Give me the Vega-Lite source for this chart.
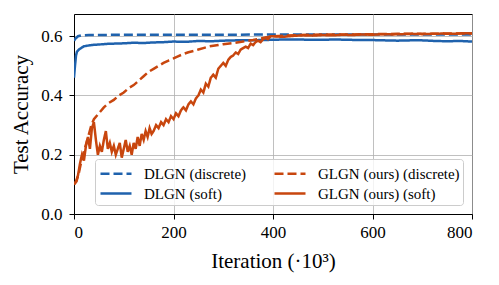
{
  "$schema": "https://vega.github.io/schema/vega-lite/v6.json",
  "width": 398,
  "height": 200,
  "autosize": "none",
  "padding": {"left": 74, "top": 14, "right": 27, "bottom": 71},
  "config": {
    "font": "Liberation Serif",
    "view": {"stroke": "black", "strokeWidth": 1},
    "axis": {"labelFont": "Liberation Serif", "titleFont": "Liberation Serif", "labelFontSize": 17, "titleFontSize": 21, "titleFontWeight": "normal", "labelColor": "black", "titleColor": "black", "domainColor": "black", "tickColor": "black", "gridColor": "#b0b0b0", "gridWidth": 0.8, "tickSize": 5}
  },
  "data": {"values": [
    {"it":0,"acc":0.585,"s":"DLGN (discrete)"},{"it":3,"acc":0.592,"s":"DLGN (discrete)"},{"it":8,"acc":0.600,"s":"DLGN (discrete)"},{"it":15,"acc":0.603,"s":"DLGN (discrete)"},{"it":30,"acc":0.604,"s":"DLGN (discrete)"},{"it":100,"acc":0.605,"s":"DLGN (discrete)"},{"it":200,"acc":0.605,"s":"DLGN (discrete)"},{"it":300,"acc":0.605,"s":"DLGN (discrete)"},{"it":400,"acc":0.606,"s":"DLGN (discrete)"},{"it":500,"acc":0.606,"s":"DLGN (discrete)"},{"it":600,"acc":0.606,"s":"DLGN (discrete)"},{"it":700,"acc":0.606,"s":"DLGN (discrete)"},{"it":800,"acc":0.606,"s":"DLGN (discrete)"},
    {"it":0,"acc":0.46,"s":"DLGN (soft)"},{"it":2,"acc":0.50,"s":"DLGN (soft)"},{"it":4,"acc":0.535,"s":"DLGN (soft)"},{"it":6,"acc":0.548,"s":"DLGN (soft)"},{"it":10,"acc":0.555,"s":"DLGN (soft)"},{"it":15,"acc":0.561,"s":"DLGN (soft)"},{"it":20,"acc":0.566,"s":"DLGN (soft)"},{"it":30,"acc":0.569,"s":"DLGN (soft)"},{"it":40,"acc":0.571,"s":"DLGN (soft)"},{"it":50,"acc":0.572,"s":"DLGN (soft)"},{"it":65,"acc":0.574,"s":"DLGN (soft)"},{"it":80,"acc":0.575,"s":"DLGN (soft)"},{"it":100,"acc":0.576,"s":"DLGN (soft)"},{"it":120,"acc":0.578,"s":"DLGN (soft)"},{"it":140,"acc":0.577,"s":"DLGN (soft)"},{"it":160,"acc":0.579,"s":"DLGN (soft)"},{"it":180,"acc":0.580,"s":"DLGN (soft)"},{"it":200,"acc":0.582,"s":"DLGN (soft)"},{"it":225,"acc":0.581,"s":"DLGN (soft)"},{"it":250,"acc":0.584,"s":"DLGN (soft)"},{"it":275,"acc":0.583,"s":"DLGN (soft)"},{"it":300,"acc":0.585,"s":"DLGN (soft)"},{"it":325,"acc":0.586,"s":"DLGN (soft)"},{"it":350,"acc":0.586,"s":"DLGN (soft)"},{"it":375,"acc":0.587,"s":"DLGN (soft)"},{"it":400,"acc":0.588,"s":"DLGN (soft)"},{"it":425,"acc":0.589,"s":"DLGN (soft)"},{"it":450,"acc":0.589,"s":"DLGN (soft)"},{"it":475,"acc":0.588,"s":"DLGN (soft)"},{"it":500,"acc":0.588,"s":"DLGN (soft)"},{"it":525,"acc":0.589,"s":"DLGN (soft)"},{"it":550,"acc":0.588,"s":"DLGN (soft)"},{"it":575,"acc":0.587,"s":"DLGN (soft)"},{"it":600,"acc":0.587,"s":"DLGN (soft)"},{"it":625,"acc":0.586,"s":"DLGN (soft)"},{"it":650,"acc":0.585,"s":"DLGN (soft)"},{"it":675,"acc":0.586,"s":"DLGN (soft)"},{"it":700,"acc":0.586,"s":"DLGN (soft)"},{"it":725,"acc":0.584,"s":"DLGN (soft)"},{"it":750,"acc":0.583,"s":"DLGN (soft)"},{"it":775,"acc":0.584,"s":"DLGN (soft)"},{"it":800,"acc":0.582,"s":"DLGN (soft)"},
    {"it":0,"acc":0.10,"s":"GLGN (ours) (discrete)"},{"it":5,"acc":0.11,"s":"GLGN (ours) (discrete)"},{"it":10,"acc":0.14,"s":"GLGN (ours) (discrete)"},{"it":15,"acc":0.18,"s":"GLGN (ours) (discrete)"},{"it":20,"acc":0.21,"s":"GLGN (ours) (discrete)"},{"it":25,"acc":0.24,"s":"GLGN (ours) (discrete)"},{"it":30,"acc":0.27,"s":"GLGN (ours) (discrete)"},{"it":35,"acc":0.30,"s":"GLGN (ours) (discrete)"},{"it":40,"acc":0.32,"s":"GLGN (ours) (discrete)"},{"it":50,"acc":0.34,"s":"GLGN (ours) (discrete)"},{"it":60,"acc":0.36,"s":"GLGN (ours) (discrete)"},{"it":70,"acc":0.375,"s":"GLGN (ours) (discrete)"},{"it":80,"acc":0.385,"s":"GLGN (ours) (discrete)"},{"it":90,"acc":0.40,"s":"GLGN (ours) (discrete)"},{"it":100,"acc":0.41,"s":"GLGN (ours) (discrete)"},{"it":110,"acc":0.425,"s":"GLGN (ours) (discrete)"},{"it":120,"acc":0.435,"s":"GLGN (ours) (discrete)"},{"it":130,"acc":0.45,"s":"GLGN (ours) (discrete)"},{"it":140,"acc":0.465,"s":"GLGN (ours) (discrete)"},{"it":150,"acc":0.48,"s":"GLGN (ours) (discrete)"},{"it":160,"acc":0.49,"s":"GLGN (ours) (discrete)"},{"it":170,"acc":0.50,"s":"GLGN (ours) (discrete)"},{"it":180,"acc":0.51,"s":"GLGN (ours) (discrete)"},{"it":190,"acc":0.518,"s":"GLGN (ours) (discrete)"},{"it":200,"acc":0.525,"s":"GLGN (ours) (discrete)"},{"it":210,"acc":0.533,"s":"GLGN (ours) (discrete)"},{"it":220,"acc":0.54,"s":"GLGN (ours) (discrete)"},{"it":230,"acc":0.546,"s":"GLGN (ours) (discrete)"},{"it":240,"acc":0.55,"s":"GLGN (ours) (discrete)"},{"it":250,"acc":0.555,"s":"GLGN (ours) (discrete)"},{"it":260,"acc":0.56,"s":"GLGN (ours) (discrete)"},{"it":270,"acc":0.565,"s":"GLGN (ours) (discrete)"},{"it":280,"acc":0.568,"s":"GLGN (ours) (discrete)"},{"it":290,"acc":0.57,"s":"GLGN (ours) (discrete)"},{"it":300,"acc":0.573,"s":"GLGN (ours) (discrete)"},{"it":320,"acc":0.577,"s":"GLGN (ours) (discrete)"},{"it":340,"acc":0.582,"s":"GLGN (ours) (discrete)"},{"it":360,"acc":0.587,"s":"GLGN (ours) (discrete)"},{"it":380,"acc":0.594,"s":"GLGN (ours) (discrete)"},{"it":400,"acc":0.60,"s":"GLGN (ours) (discrete)"},{"it":450,"acc":0.604,"s":"GLGN (ours) (discrete)"},{"it":500,"acc":0.606,"s":"GLGN (ours) (discrete)"},{"it":550,"acc":0.606,"s":"GLGN (ours) (discrete)"},{"it":600,"acc":0.607,"s":"GLGN (ours) (discrete)"},{"it":650,"acc":0.608,"s":"GLGN (ours) (discrete)"},{"it":700,"acc":0.608,"s":"GLGN (ours) (discrete)"},{"it":750,"acc":0.609,"s":"GLGN (ours) (discrete)"},{"it":800,"acc":0.609,"s":"GLGN (ours) (discrete)"},
    {"it":0,"acc":0.10,"s":"GLGN (ours) (soft)"},{"it":4,"acc":0.11,"s":"GLGN (ours) (soft)"},{"it":8,"acc":0.13,"s":"GLGN (ours) (soft)"},{"it":12,"acc":0.17,"s":"GLGN (ours) (soft)"},{"it":16,"acc":0.20,"s":"GLGN (ours) (soft)"},{"it":20,"acc":0.18,"s":"GLGN (ours) (soft)"},{"it":24,"acc":0.23,"s":"GLGN (ours) (soft)"},{"it":28,"acc":0.26,"s":"GLGN (ours) (soft)"},{"it":32,"acc":0.22,"s":"GLGN (ours) (soft)"},{"it":36,"acc":0.29,"s":"GLGN (ours) (soft)"},{"it":40,"acc":0.31,"s":"GLGN (ours) (soft)"},{"it":44,"acc":0.25,"s":"GLGN (ours) (soft)"},{"it":48,"acc":0.20,"s":"GLGN (ours) (soft)"},{"it":52,"acc":0.23,"s":"GLGN (ours) (soft)"},{"it":56,"acc":0.21,"s":"GLGN (ours) (soft)"},{"it":60,"acc":0.25,"s":"GLGN (ours) (soft)"},{"it":64,"acc":0.28,"s":"GLGN (ours) (soft)"},{"it":68,"acc":0.22,"s":"GLGN (ours) (soft)"},{"it":72,"acc":0.24,"s":"GLGN (ours) (soft)"},{"it":76,"acc":0.21,"s":"GLGN (ours) (soft)"},{"it":80,"acc":0.23,"s":"GLGN (ours) (soft)"},{"it":84,"acc":0.20,"s":"GLGN (ours) (soft)"},{"it":88,"acc":0.22,"s":"GLGN (ours) (soft)"},{"it":92,"acc":0.24,"s":"GLGN (ours) (soft)"},{"it":96,"acc":0.19,"s":"GLGN (ours) (soft)"},{"it":100,"acc":0.22,"s":"GLGN (ours) (soft)"},{"it":104,"acc":0.25,"s":"GLGN (ours) (soft)"},{"it":108,"acc":0.21,"s":"GLGN (ours) (soft)"},{"it":112,"acc":0.23,"s":"GLGN (ours) (soft)"},{"it":116,"acc":0.20,"s":"GLGN (ours) (soft)"},{"it":120,"acc":0.24,"s":"GLGN (ours) (soft)"},{"it":124,"acc":0.22,"s":"GLGN (ours) (soft)"},{"it":128,"acc":0.26,"s":"GLGN (ours) (soft)"},{"it":132,"acc":0.23,"s":"GLGN (ours) (soft)"},{"it":136,"acc":0.27,"s":"GLGN (ours) (soft)"},{"it":140,"acc":0.25,"s":"GLGN (ours) (soft)"},{"it":144,"acc":0.28,"s":"GLGN (ours) (soft)"},{"it":148,"acc":0.26,"s":"GLGN (ours) (soft)"},{"it":152,"acc":0.29,"s":"GLGN (ours) (soft)"},{"it":156,"acc":0.27,"s":"GLGN (ours) (soft)"},{"it":160,"acc":0.28,"s":"GLGN (ours) (soft)"},{"it":165,"acc":0.30,"s":"GLGN (ours) (soft)"},{"it":170,"acc":0.29,"s":"GLGN (ours) (soft)"},{"it":175,"acc":0.31,"s":"GLGN (ours) (soft)"},{"it":180,"acc":0.30,"s":"GLGN (ours) (soft)"},{"it":185,"acc":0.32,"s":"GLGN (ours) (soft)"},{"it":190,"acc":0.31,"s":"GLGN (ours) (soft)"},{"it":195,"acc":0.33,"s":"GLGN (ours) (soft)"},{"it":200,"acc":0.32,"s":"GLGN (ours) (soft)"},{"it":205,"acc":0.34,"s":"GLGN (ours) (soft)"},{"it":210,"acc":0.33,"s":"GLGN (ours) (soft)"},{"it":215,"acc":0.35,"s":"GLGN (ours) (soft)"},{"it":220,"acc":0.36,"s":"GLGN (ours) (soft)"},{"it":225,"acc":0.35,"s":"GLGN (ours) (soft)"},{"it":230,"acc":0.37,"s":"GLGN (ours) (soft)"},{"it":235,"acc":0.38,"s":"GLGN (ours) (soft)"},{"it":240,"acc":0.37,"s":"GLGN (ours) (soft)"},{"it":245,"acc":0.39,"s":"GLGN (ours) (soft)"},{"it":250,"acc":0.40,"s":"GLGN (ours) (soft)"},{"it":255,"acc":0.42,"s":"GLGN (ours) (soft)"},{"it":260,"acc":0.41,"s":"GLGN (ours) (soft)"},{"it":265,"acc":0.44,"s":"GLGN (ours) (soft)"},{"it":270,"acc":0.43,"s":"GLGN (ours) (soft)"},{"it":275,"acc":0.46,"s":"GLGN (ours) (soft)"},{"it":280,"acc":0.47,"s":"GLGN (ours) (soft)"},{"it":285,"acc":0.46,"s":"GLGN (ours) (soft)"},{"it":290,"acc":0.49,"s":"GLGN (ours) (soft)"},{"it":295,"acc":0.50,"s":"GLGN (ours) (soft)"},{"it":300,"acc":0.51,"s":"GLGN (ours) (soft)"},{"it":305,"acc":0.50,"s":"GLGN (ours) (soft)"},{"it":310,"acc":0.52,"s":"GLGN (ours) (soft)"},{"it":315,"acc":0.53,"s":"GLGN (ours) (soft)"},{"it":320,"acc":0.535,"s":"GLGN (ours) (soft)"},{"it":325,"acc":0.545,"s":"GLGN (ours) (soft)"},{"it":330,"acc":0.54,"s":"GLGN (ours) (soft)"},{"it":335,"acc":0.555,"s":"GLGN (ours) (soft)"},{"it":340,"acc":0.56,"s":"GLGN (ours) (soft)"},{"it":345,"acc":0.565,"s":"GLGN (ours) (soft)"},{"it":350,"acc":0.56,"s":"GLGN (ours) (soft)"},{"it":355,"acc":0.575,"s":"GLGN (ours) (soft)"},{"it":360,"acc":0.57,"s":"GLGN (ours) (soft)"},{"it":365,"acc":0.58,"s":"GLGN (ours) (soft)"},{"it":370,"acc":0.585,"s":"GLGN (ours) (soft)"},{"it":375,"acc":0.58,"s":"GLGN (ours) (soft)"},{"it":380,"acc":0.59,"s":"GLGN (ours) (soft)"},{"it":385,"acc":0.595,"s":"GLGN (ours) (soft)"},{"it":390,"acc":0.59,"s":"GLGN (ours) (soft)"},{"it":395,"acc":0.60,"s":"GLGN (ours) (soft)"},{"it":400,"acc":0.60,"s":"GLGN (ours) (soft)"},{"it":420,"acc":0.598,"s":"GLGN (ours) (soft)"},{"it":440,"acc":0.601,"s":"GLGN (ours) (soft)"},{"it":460,"acc":0.603,"s":"GLGN (ours) (soft)"},{"it":480,"acc":0.602,"s":"GLGN (ours) (soft)"},{"it":500,"acc":0.604,"s":"GLGN (ours) (soft)"},{"it":520,"acc":0.603,"s":"GLGN (ours) (soft)"},{"it":540,"acc":0.605,"s":"GLGN (ours) (soft)"},{"it":560,"acc":0.604,"s":"GLGN (ours) (soft)"},{"it":580,"acc":0.606,"s":"GLGN (ours) (soft)"},{"it":600,"acc":0.605,"s":"GLGN (ours) (soft)"},{"it":620,"acc":0.607,"s":"GLGN (ours) (soft)"},{"it":640,"acc":0.606,"s":"GLGN (ours) (soft)"},{"it":660,"acc":0.607,"s":"GLGN (ours) (soft)"},{"it":680,"acc":0.608,"s":"GLGN (ours) (soft)"},{"it":700,"acc":0.607,"s":"GLGN (ours) (soft)"},{"it":720,"acc":0.608,"s":"GLGN (ours) (soft)"},{"it":740,"acc":0.609,"s":"GLGN (ours) (soft)"},{"it":760,"acc":0.608,"s":"GLGN (ours) (soft)"},{"it":780,"acc":0.61,"s":"GLGN (ours) (soft)"},{"it":800,"acc":0.61,"s":"GLGN (ours) (soft)"}
  ]},
  "mark": {"type": "line", "strokeWidth": 2.5, "clip": true},
  "encoding": {
    "x": {"field": "it", "type": "quantitative", "scale": {"domain": [0, 800], "nice": false}, "axis": {"values": [0, 200, 400, 600, 800], "title": "Iteration (·10³)", "labelPadding": 5, "titlePadding": 10}},
    "y": {"field": "acc", "type": "quantitative", "scale": {"domain": [0, 0.675], "nice": false}, "axis": {"values": [0, 0.2, 0.4, 0.6], "format": ".1f", "title": "Test Accuracy", "labelPadding": 7, "titlePadding": 9}},
    "color": {"field": "s", "type": "nominal", "scale": {"domain": ["DLGN (discrete)", "DLGN (soft)", "GLGN (ours) (discrete)", "GLGN (ours) (soft)"], "range": ["#1f62ad", "#1f62ad", "#c8460e", "#c8460e"]},
      "legend": {"title": null, "orient": "none", "legendX": 21, "legendY": 145, "columns": 2, "symbolType": "M-0.9,0H2.2", "symbolSize": 400, "symbolStrokeWidth": 2.5, "symbolFillColor": "transparent", "labelFont": "Liberation Serif", "labelFontSize": 15, "labelOffset": 23, "labelColor": "black", "fillColor": "rgba(255,255,255,0.8)", "strokeColor": "#cccccc", "cornerRadius": 3, "padding": 3, "columnPadding": 22, "rowPadding": 0, "labelLimit": 300}},
    "strokeDash": {"field": "s", "type": "nominal", "scale": {"domain": ["DLGN (discrete)", "DLGN (soft)", "GLGN (ours) (discrete)", "GLGN (ours) (soft)"], "range": [[9, 4], [1, 0], [9, 4], [1, 0]]}, "legend": {"title": null}}
  }
}
